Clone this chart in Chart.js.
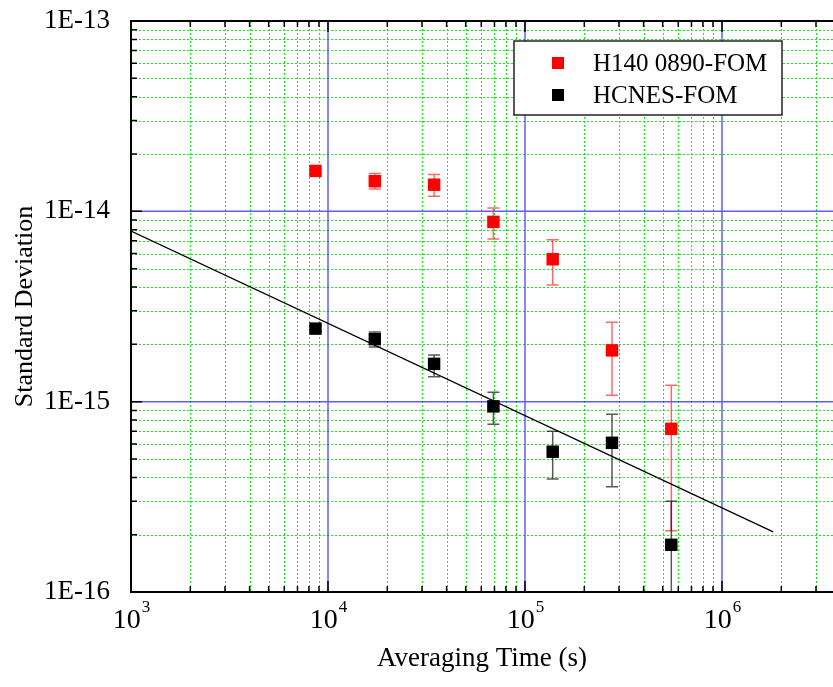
<!DOCTYPE html>
<html>
<head>
<meta charset="utf-8">
<script src="https://cdn.jsdelivr.net/npm/chart.js@4.4.0/dist/chart.umd.min.js"></script>
<style>
  html, body { margin: 0; padding: 0; background: #fff; }
</style>
</head>
<body>
<canvas id="adev" width="833" height="687"></canvas>
<script>
// averaging times, s
var tau = [8640, 17280, 34560, 69120, 138240, 276480, 552960];

// H140 0890 against FOM
var h140 = [1.63e-14, 1.44e-14, 1.38e-14, 8.8e-15, 5.6e-15, 1.86e-15, 7.2e-16];
var h140Low = [1.58e-14, 1.31e-14, 1.20e-14, 7.15e-15, 4.1e-15, 1.08e-15, 2.1e-16];
var h140High = [1.68e-14, 1.58e-14, 1.56e-14, 1.04e-14, 7.1e-15, 2.61e-15, 1.22e-15];

// HCNES against FOM
var hcnes = [2.42e-15, 2.13e-15, 1.58e-15, 9.45e-16, 5.46e-16, 6.08e-16, 1.77e-16];
var hcnesLow = [2.35e-15, 1.94e-15, 1.35e-15, 7.6e-16, 3.92e-16, 3.57e-16, 5e-17];
var hcnesHigh = [2.49e-15, 2.32e-15, 1.76e-15, 1.12e-15, 7.0e-16, 8.6e-16, 3.0e-16];

// white frequency noise guide line (tau^-1/2 ish)
var fitTau = [1000, 1820000];
var fitDev = [7.88e-15, 2.07e-16];

// axis ranges and labels
var xMin = 1000, xMax = 3.66e6;
var yMin = 1e-16, yMax = 1e-13;
var xExponents = [3, 4, 5, 6];
var yTickLabels = ['1E-16', '1E-15', '1E-14', '1E-13'];

var FONT = '"Liberation Serif", "Times New Roman", serif';

function isDecade(v) {
    var l = Math.log10(v);
    return Math.abs(l - Math.round(l)) < 1e-6;
}

// 1..9 x 10^n ticks between min and max
function logTicks(min, max) {
    var out = [];
    var e0 = Math.floor(Math.log10(min)), e1 = Math.ceil(Math.log10(max));
    for (var e = e0; e <= e1; e++) {
        for (var m = 1; m < 10; m++) {
            var v = m * Math.pow(10, e);
            if (v >= min * 0.999999 && v <= max * 1.000001) out.push({ value: v });
        }
    }
    return out;
}

function points(xs, ys) {
    return xs.map(function (x, i) { return { x: x, y: ys[i] }; });
}

var plotDecor = {
    id: 'plotDecor',
    beforeDatasetsDraw: function (chart) {
        var ctx = chart.ctx, a = chart.chartArea;
        var xs = chart.scales.x, ys = chart.scales.y;
        ctx.save();

        // minor grid, green dots
        ctx.lineWidth = 1;
        ctx.strokeStyle = '#11ee11';
        ctx.setLineDash([2, 2]);
        ctx.beginPath();
        xs.ticks.forEach(function (t) {
            if (isDecade(t.value)) return;
            var px = Math.round(xs.getPixelForValue(t.value)) + 0.5;
            ctx.moveTo(px, a.top); ctx.lineTo(px, a.bottom);
        });
        ys.ticks.forEach(function (t) {
            if (isDecade(t.value)) return;
            var py = Math.round(ys.getPixelForValue(t.value)) + 0.5;
            ctx.moveTo(a.left, py); ctx.lineTo(a.right, py);
        });
        ctx.stroke();

        // decade grid, blue
        ctx.setLineDash([]);
        ctx.lineWidth = 1.5;
        ctx.strokeStyle = 'rgba(40,40,255,0.75)';
        ctx.beginPath();
        xs.ticks.forEach(function (t) {
            if (!isDecade(t.value)) return;
            var px = xs.getPixelForValue(t.value);
            ctx.moveTo(px, a.top); ctx.lineTo(px, a.bottom);
        });
        ys.ticks.forEach(function (t) {
            if (!isDecade(t.value)) return;
            var py = ys.getPixelForValue(t.value);
            ctx.moveTo(a.left, py); ctx.lineTo(a.right, py);
        });
        ctx.stroke();

        // error bars
        ctx.beginPath();
        ctx.rect(a.left, a.top, a.right - a.left, a.bottom - a.top);
        ctx.clip();
        chart.data.datasets.forEach(function (ds) {
            if (!ds.errLow) return;
            ctx.strokeStyle = ds.errColor;
            ctx.lineWidth = 1.5;
            ctx.beginPath();
            ds.data.forEach(function (p, i) {
                var px = xs.getPixelForValue(p.x);
                var lo = ys.getPixelForValue(ds.errLow[i]);
                var hi = ys.getPixelForValue(ds.errHigh[i]);
                ctx.moveTo(px, lo); ctx.lineTo(px, hi);
                ctx.moveTo(px - 6, lo); ctx.lineTo(px + 6, lo);
                ctx.moveTo(px - 6, hi); ctx.lineTo(px + 6, hi);
            });
            ctx.stroke();
        });
        ctx.restore();
    },
    afterDatasetsDraw: function (chart) {
        var ctx = chart.ctx, a = chart.chartArea;
        var xs = chart.scales.x, ys = chart.scales.y;
        ctx.save();

        // legend
        var lx = 514, ly = 41, lw = 268, lh = 74;
        ctx.fillStyle = '#fff';
        ctx.fillRect(lx, ly, lw, lh);
        ctx.strokeStyle = '#222';
        ctx.lineWidth = 1.5;
        ctx.strokeRect(lx, ly, lw, lh);
        ctx.font = '25px ' + FONT;
        ctx.textBaseline = 'middle';
        ctx.textAlign = 'left';
        var row = 0;
        chart.data.datasets.forEach(function (ds) {
            if (!ds.label) return;
            var cy = ly + 22 + row * 32;
            ctx.fillStyle = ds.backgroundColor;
            ctx.fillRect(lx + 38, cy - 6, 12, 12);
            ctx.fillStyle = '#000';
            ctx.fillText(ds.label, lx + 79, cy + 1);
            row++;
        });

        // frame: left, bottom, top
        ctx.strokeStyle = '#000';
        ctx.lineWidth = 2;
        ctx.beginPath();
        ctx.moveTo(a.right, a.top); ctx.lineTo(a.left, a.top);
        ctx.lineTo(a.left, a.bottom); ctx.lineTo(a.right, a.bottom);
        ctx.stroke();

        // inward ticks
        ctx.lineWidth = 1.5;
        ctx.beginPath();
        xs.ticks.forEach(function (t) {
            var px = xs.getPixelForValue(t.value);
            if (px <= a.left + 1 || px >= a.right - 1) return;
            var len = isDecade(t.value) ? 11 : 6;
            ctx.moveTo(px, a.bottom); ctx.lineTo(px, a.bottom - len);
            ctx.moveTo(px, a.top); ctx.lineTo(px, a.top + len);
        });
        ys.ticks.forEach(function (t) {
            var py = ys.getPixelForValue(t.value);
            if (py <= a.top + 1 || py >= a.bottom - 1) return;
            var len = isDecade(t.value) ? 11 : 6;
            ctx.moveTo(a.left, py); ctx.lineTo(a.left + len, py);
        });
        ctx.stroke();

        // x tick labels as 10^n
        ctx.fillStyle = '#000';
        ctx.textBaseline = 'alphabetic';
        xExponents.forEach(function (e) {
            var px = xs.getPixelForValue(Math.pow(10, e));
            ctx.font = '28px ' + FONT;
            var wb = ctx.measureText('10').width;
            ctx.font = '17px ' + FONT;
            var we = ctx.measureText(String(e)).width;
            var x0 = px - (wb + we) / 2;
            ctx.font = '28px ' + FONT;
            ctx.fillText('10', x0, a.bottom + 36);
            ctx.font = '17px ' + FONT;
            ctx.fillText(String(e), x0 + wb + 1, a.bottom + 20);
        });
        ctx.restore();
    }
};

new Chart(document.getElementById('adev'), {
    type: 'scatter',
    data: {
        datasets: [
            {
                label: 'H140 0890-FOM',
                data: points(tau, h140),
                errLow: h140Low,
                errHigh: h140High,
                errColor: 'rgba(255,40,40,0.7)',
                backgroundColor: '#ff0000',
                borderWidth: 0,
                pointStyle: 'rect',
                pointRadius: 8.8,
                pointHoverRadius: 8.8
            },
            {
                label: 'HCNES-FOM',
                data: points(tau, hcnes),
                errLow: hcnesLow,
                errHigh: hcnesHigh,
                errColor: 'rgba(0,0,0,0.65)',
                backgroundColor: '#000000',
                borderWidth: 0,
                pointStyle: 'rect',
                pointRadius: 8.8,
                pointHoverRadius: 8.8
            },
            {
                data: points(fitTau, fitDev),
                showLine: true,
                borderColor: '#000',
                borderWidth: 1.3,
                pointRadius: 0,
                pointHoverRadius: 0
            }
        ]
    },
    options: {
        responsive: false,
        animation: false,
        devicePixelRatio: 1,
        layout: { autoPadding: false, padding: { top: 21, right: 0, left: 0, bottom: 0 } },
        plugins: { legend: { display: false }, tooltip: { enabled: false } },
        scales: {
            x: {
                type: 'logarithmic',
                min: xMin,
                max: xMax,
                afterBuildTicks: function (s) { s.ticks = logTicks(xMin, xMax); },
                afterFit: function (s) {
                    s.height = 95;
                    s.paddingLeft = 0;
                    s.paddingRight = 0;
                },
                grid: { display: false },
                border: { display: false },
                ticks: { display: false },
                title: {
                    display: true,
                    text: 'Averaging Time (s)',
                    color: '#000',
                    font: { family: FONT, size: 27 },
                    padding: { top: 0, bottom: 12 }
                }
            },
            y: {
                type: 'logarithmic',
                min: yMin,
                max: yMax,
                afterBuildTicks: function (s) { s.ticks = logTicks(yMin, yMax); },
                afterFit: function (s) {
                    s.width = 131;
                    s.paddingTop = 0;
                    s.paddingBottom = 0;
                },
                grid: { display: false },
                border: { display: false },
                ticks: {
                    autoSkip: false,
                    padding: 13,
                    color: '#000',
                    font: { family: FONT, size: 27 },
                    callback: function (v) {
                        if (!isDecade(v)) return '';
                        var idx = Math.round(Math.log10(v)) + 16;
                        return yTickLabels[idx] || '';
                    }
                },
                title: {
                    display: true,
                    text: 'Standard Deviation',
                    color: '#000',
                    font: { family: FONT, size: 26 },
                    padding: { top: 10, bottom: 0 }
                }
            }
        }
    },
    plugins: [plotDecor]
});
</script>
</body>
</html>
